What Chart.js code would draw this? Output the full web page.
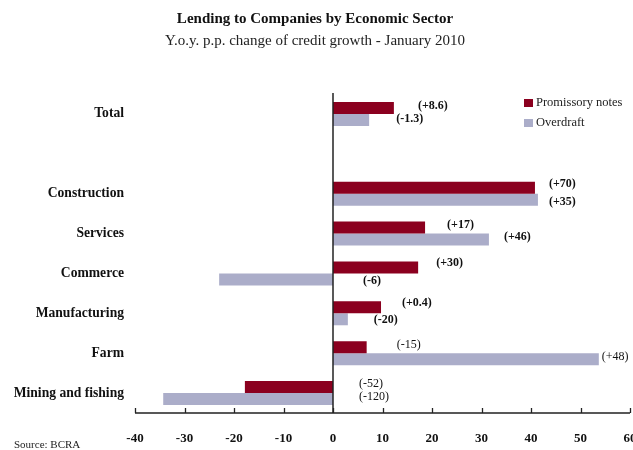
<!DOCTYPE html>
<html>
<head>
<meta charset="utf-8">
<script src="https://cdn.jsdelivr.net/npm/chart.js@4/dist/chart.umd.min.js"></script>
<style>
  html, body { margin: 0; padding: 0; background: #fff; overflow: hidden; }
  #wrap { width: 633px; height: 450px; position: relative; }
</style>
</head>
<body>
<div id="wrap"><canvas id="chart"></canvas></div>
<script>
// Sectors, top to bottom (the empty entry leaves a gap under "Total")
const sectors = ['Total', '', 'Construction', 'Services', 'Commerce', 'Manufacturing', 'Farm', 'Mining and fishing'];

// Y.o.y. change of credit growth, percentage points
const promissory = [12.3, null, 40.8, 18.6, 17.2, 9.7, 6.8, -17.8];
const overdraft  = [7.3, null, 41.4, 31.5, -23.0, 3.0, 53.7, -34.3];

// Bracketed notes printed beside each bar
const promissoryNotes = ['(+8.6)', '', '(+70)', '(+17)', '(+30)', '(+0.4)', '(-15)', '(-52)'];
const overdraftNotes  = ['(-1.3)', '', '(+35)', '(+46)', '(-6)', '(-20)', '(+48)', '(-120)'];

const seriesNames = ['Promissory notes', 'Overdraft'];
const xTickValues = [-40, -30, -20, -10, 0, 10, 20, 30, 40, 50, 60];

// Layout of the notes: pixel nudge from the bar end / bar centre, and weight
const promissoryNudge = [[24, -2], [0, 0], [14, -4], [22, -3], [18, -5], [21, -4], [30, -2], [26, -3]];
const overdraftNudge  = [[27, -1], [0, 0], [11, 2], [15, -3], [30, 1], [26, 1], [3, -2], [26, -2]];
const noteWeight = ['bold', 'bold', 'bold', 'bold', 'bold', 'bold', 'normal', 'normal'];

const SERIF = "'Liberation Serif', 'Times New Roman', serif";
const RED = '#8b001f';
const LAVENDER = '#abadc9';
const INK = '#111111';

const decorations = {
  id: 'decorations',
  afterDatasetsDraw(chart) {
    const { ctx, chartArea: a, scales: { x } } = chart;
    ctx.save();

    // zero line
    const x0 = x.getPixelForValue(0);
    ctx.strokeStyle = '#222';
    ctx.lineWidth = 1.5;
    ctx.beginPath();
    ctx.moveTo(x0, a.top - 1);
    ctx.lineTo(x0, a.bottom);
    ctx.stroke();

    // bottom axis with ticks pointing up
    ctx.lineWidth = 1.3;
    ctx.beginPath();
    ctx.moveTo(x.getPixelForValue(xTickValues[0]), a.bottom);
    ctx.lineTo(x.getPixelForValue(xTickValues[xTickValues.length - 1]), a.bottom);
    xTickValues.forEach(v => {
      const px = Math.round(x.getPixelForValue(v)) + 0.5;
      ctx.moveTo(px, a.bottom);
      ctx.lineTo(px, a.bottom - 5);
    });
    ctx.stroke();

    // notes beside the bars
    const notes = [promissoryNotes, overdraftNotes];
    const nudges = [promissoryNudge, overdraftNudge];
    const values = [promissory, overdraft];
    ctx.fillStyle = INK;
    ctx.textAlign = 'left';
    ctx.textBaseline = 'middle';
    chart.data.datasets.forEach((ds, di) => {
      chart.getDatasetMeta(di).data.forEach((bar, i) => {
        const text = notes[di][i];
        if (!text) return;
        const [dx, dy] = nudges[di][i];
        const end = x.getPixelForValue(Math.max(values[di][i], 0));
        ctx.font = `${noteWeight[i]} 12px ${SERIF}`;
        ctx.fillText(text, end + dx, bar.y + dy);
      });
    });

    // legend
    ctx.font = `12.5px ${SERIF}`;
    chart.data.datasets.forEach((ds, di) => {
      const ly = 103 + di * 20;
      ctx.fillStyle = ds.backgroundColor;
      ctx.fillRect(524, ly - 4, 9, 8);
      ctx.fillStyle = '#222';
      ctx.fillText(ds.label, 536, ly);
    });

    // source
    ctx.font = `11px ${SERIF}`;
    ctx.fillStyle = '#222';
    ctx.fillText('Source: BCRA', 14, 445);

    ctx.restore();
  }
};

new Chart(document.getElementById('chart'), {
  type: 'bar',
  data: {
    labels: sectors,
    datasets: [
      { label: seriesNames[0], data: promissory, backgroundColor: RED },
      { label: seriesNames[1], data: overdraft, backgroundColor: LAVENDER }
    ]
  },
  options: {
    indexAxis: 'y',
    responsive: true,
    maintainAspectRatio: false,
    animation: false,
    barPercentage: 1,
    categoryPercentage: 0.6,
    layout: { padding: { left: 0, right: 3, top: 0, bottom: 0 } },
    plugins: {
      legend: { display: false },
      tooltip: { enabled: false },
      title: {
        display: true,
        text: 'Lending to Companies by Economic Sector',
        color: INK,
        font: { family: SERIF, size: 15, weight: 'bold' },
        padding: { top: 10, bottom: 4 }
      },
      subtitle: {
        display: true,
        text: 'Y.o.y. p.p. change of credit growth - January 2010',
        color: '#222',
        font: { family: SERIF, size: 15, weight: 'normal' },
        padding: { top: 0, bottom: 44 }
      }
    },
    scales: {
      x: {
        min: -40,
        max: 60,
        afterBuildTicks(s) { s.ticks = xTickValues.map(v => ({ value: v })); },
        ticks: {
          color: INK,
          font: { family: SERIF, size: 13, weight: 'bold' },
          padding: 18,
          maxRotation: 0,
          autoSkip: false
        },
        grid: { display: false, drawTicks: false },
        border: { display: false },
        afterFit(s) { s.height = 37; s.paddingLeft = 0; s.paddingRight = 0; }
      },
      y: {
        ticks: {
          color: INK,
          font: { family: SERIF, size: 13.6, weight: 'bold' },
          padding: 11,
          autoSkip: false
        },
        grid: { display: false, drawTicks: false },
        border: { display: false },
        afterFit(s) { s.width = 135; s.paddingTop = 0; s.paddingBottom = 0; }
      }
    }
  },
  plugins: [decorations]
});
</script>
</body>
</html>
